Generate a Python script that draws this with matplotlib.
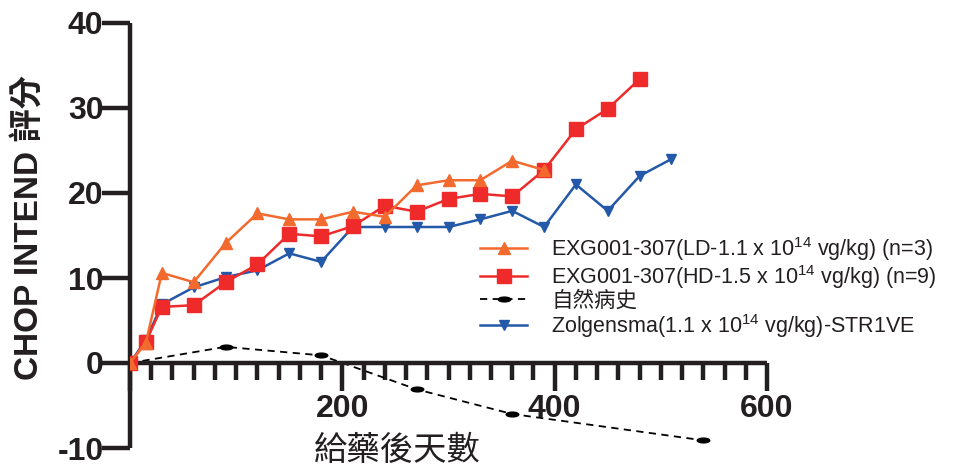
import matplotlib
matplotlib.use("Agg")
import matplotlib.pyplot as plt
from matplotlib.path import Path
from matplotlib.transforms import Affine2D
from matplotlib.ticker import MultipleLocator, FixedLocator

plt.rcParams['font.family'] = ['Liberation Sans', 'Noto Sans CJK TC']
plt.rcParams['mathtext.fontset'] = 'custom'
plt.rcParams['mathtext.rm'] = 'Liberation Sans'
plt.rcParams['mathtext.default'] = 'regular'
plt.rcParams['axes.unicode_minus'] = False

# Days after dosing and CHOP INTEND scores per group
ld_days = [0, 15, 30, 60, 90, 120, 150, 180, 210, 240, 270, 300, 330, 360, 390]
ld_score = [0, 2.4, 10.6, 9.5, 14.1, 17.6, 16.9, 16.9, 17.8, 17.2, 20.9, 21.5, 21.5, 23.8, 22.7]

hd_days = [0, 15, 30, 60, 90, 120, 150, 180, 210, 240, 270, 300, 330, 360, 390, 420, 450, 480]
hd_score = [0, 2.5, 6.6, 6.8, 9.5, 11.6, 15.2, 14.9, 16.1, 18.5, 17.8, 19.3, 19.9, 19.6, 22.7, 27.5, 29.9, 33.4]

nh_days = [0, 90, 180, 270, 360, 540]
nh_score = [0, 1.9, 0.9, -3.1, -6.0, -9.1]

zol_days = [0, 15, 30, 60, 90, 120, 150, 180, 210, 240, 270, 300, 330, 360, 390, 420, 450, 480, 510]
zol_score = [0, 2.7, 6.9, 8.9, 10.1, 10.9, 12.9, 11.9, 16.0, 16.0, 16.0, 16.0, 16.9, 17.9, 16.0, 21.0, 17.9, 22.0, 24.0]

labels = [
    r'EXG001-307(LD-1.1 x 10$^{14}$ vg/kg) (n=3)',
    r'EXG001-307(HD-1.5 x 10$^{14}$ vg/kg) (n=9)',
    '自然病史',
    r'Zolgensma(1.1 x 10$^{14}$ vg/kg)-STR1VE',
]

C_ORANGE = '#f26a2e'
C_RED = '#ee2a2b'
C_BLUE = '#2458a8'
C_TEXT = '#231f20'

fig = plt.figure(figsize=(9.55, 4.73), dpi=100)
ax = fig.add_axes([130 / 955, 1 - 448 / 473, 637 / 955, 425 / 473])

ellipse = Path.unit_circle().transformed(Affine2D().scale(1.0, 0.38))

h_zol, = ax.plot(zol_days, zol_score, color=C_BLUE, lw=1.8, marker='v', ms=7,
                 mec=C_BLUE, mfc=C_BLUE, zorder=3)
h_nh, = ax.plot(nh_days, nh_score, color='black', lw=1.3, ls=(0, (4, 3)),
                marker=ellipse, ms=9, mfc='black', mec='black', zorder=2)
h_hd, = ax.plot(hd_days, hd_score, color=C_RED, lw=1.8, marker='s', ms=9.5,
                mec=C_RED, mfc=C_RED, zorder=4)
h_ld, = ax.plot(ld_days, ld_score, color=C_ORANGE, lw=1.8, marker='^', ms=8.5,
                mec=C_ORANGE, mfc=C_ORANGE, zorder=5)

ax.set_xlim(0, 600)
ax.set_ylim(-10, 40)

for s in ('top', 'right'):
    ax.spines[s].set_visible(False)
ax.spines['bottom'].set_position(('data', 0))
for s in ('left', 'bottom'):
    ax.spines[s].set_linewidth(3.2)
    ax.spines[s].set_color(C_TEXT)
    ax.spines[s].set_capstyle('butt')

ax.xaxis.set_major_locator(FixedLocator([0, 200, 400, 600]))
ax.xaxis.set_minor_locator(MultipleLocator(20))
ax.set_xticklabels(['', '200', '400', '600'])
ax.yaxis.set_major_locator(MultipleLocator(10))

ax.tick_params(axis='x', which='major', direction='out', length=20, width=3.2,
               color=C_TEXT, pad=2, labelsize=23, labelcolor=C_TEXT)
ax.tick_params(axis='x', which='minor', direction='out', length=12, width=3.2,
               color=C_TEXT)
ax.tick_params(axis='y', which='major', direction='out', length=20, width=3.2,
               color=C_TEXT, pad=-1, labelsize=23, labelcolor=C_TEXT)
for t in ax.get_xticklabels() + ax.get_yticklabels():
    t.set_fontweight('bold')

ax.set_ylabel('CHOP INTEND 評分', fontsize=24, fontweight='bold', color=C_TEXT)
ax.yaxis.set_label_coords(-0.133, 0.52)
ax.set_xlabel('給藥後天數', fontsize=24, color=C_TEXT)
ax.xaxis.set_label_coords(0.42, 0.028)

leg = fig.legend([h_ld, h_hd, h_nh, h_zol], labels, loc='upper left',
                 bbox_to_anchor=(480 / 955, 1 - 235 / 473), frameon=False,
                 fontsize=15.5, handlelength=2.2, handletextpad=1.1,
                 labelspacing=0.0, borderpad=0, borderaxespad=0)
for t in leg.get_texts():
    t.set_color(C_TEXT)

fig.savefig('out.png', dpi=100)
